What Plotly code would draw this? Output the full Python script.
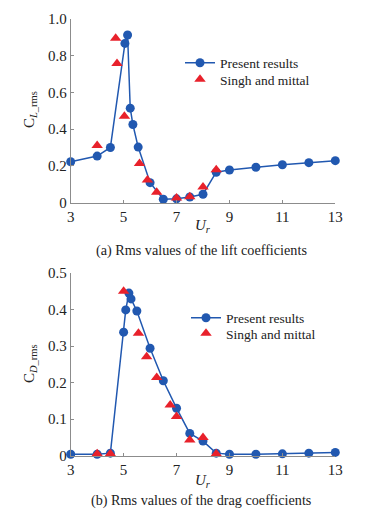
import plotly.graph_objects as go

# Lift coefficient (top)
lift_present_ur = [3.0, 4.0, 4.5, 5.05, 5.15, 5.25, 5.35, 5.55, 6.0, 6.5, 7.0, 7.5, 8.0, 8.5, 9.0, 10.0, 11.0, 12.0, 13.0]
lift_present_cl = [0.222, 0.253, 0.300, 0.867, 0.913, 0.514, 0.425, 0.302, 0.108, 0.018, 0.020, 0.030, 0.045, 0.165, 0.177, 0.192, 0.206, 0.217, 0.228]
lift_singh_ur = [4.0, 4.7, 4.75, 5.03, 5.6, 5.9, 6.25, 7.0, 7.5, 8.0, 8.5]
lift_singh_cl = [0.31, 0.895, 0.758, 0.47, 0.213, 0.122, 0.056, 0.024, 0.031, 0.084, 0.179]

# Drag coefficient (bottom)
drag_present_ur = [3.0, 4.0, 4.5, 5.0, 5.08, 5.2, 5.28, 5.5, 6.0, 6.5, 7.0, 7.5, 8.0, 8.5, 9.0, 10.0, 11.0, 12.0, 13.0]
drag_present_cd = [0.004, 0.004, 0.007, 0.338, 0.399, 0.445, 0.429, 0.396, 0.294, 0.205, 0.130, 0.061, 0.040, 0.007, 0.004, 0.004, 0.005, 0.007, 0.009]
drag_singh_ur = [4.0, 4.5, 5.0, 5.56, 5.87, 6.25, 6.76, 7.0, 7.5, 8.0, 8.5]
drag_singh_cd = [0.005, 0.005, 0.45, 0.335, 0.271, 0.214, 0.139, 0.107, 0.043, 0.050, 0.005]

x_ticks = [3, 5, 7, 9, 11, 13]
lift_ticks = [0, 0.2, 0.4, 0.6, 0.8, 1.0]
lift_ticktext = ["0", "0.2", "0.4", "0.6", "0.8", "1.0"]
drag_ticks = [0, 0.1, 0.2, 0.3, 0.4, 0.5]
drag_ticktext = ["0", "0.1", "0.2", "0.3", "0.4", "0.5"]

BLUE = "#2158b0"
RED = "#e8212b"
FONT = "Liberation Serif"
TXT = "#222"
W, H = 365, 514

fig = go.Figure()

fig.add_trace(go.Scatter(x=lift_present_ur, y=lift_present_cl, mode="lines+markers", name="Present results",
                         line=dict(color=BLUE, width=1.5), marker=dict(color=BLUE, size=9, symbol="circle"),
                         xaxis="x", yaxis="y", legend="legend", cliponaxis=False))
fig.add_trace(go.Scatter(x=lift_singh_ur, y=lift_singh_cl, mode="markers", name="Singh and mittal",
                         marker=dict(color=RED, size=10, symbol="triangle-up"),
                         xaxis="x", yaxis="y", legend="legend2", cliponaxis=False))
fig.add_trace(go.Scatter(x=drag_present_ur, y=drag_present_cd, mode="lines+markers", name="Present results",
                         line=dict(color=BLUE, width=1.5), marker=dict(color=BLUE, size=9, symbol="circle"),
                         xaxis="x2", yaxis="y2", legend="legend3", cliponaxis=False))
fig.add_trace(go.Scatter(x=drag_singh_ur, y=drag_singh_cd, mode="markers", name="Singh and mittal",
                         marker=dict(color=RED, size=10, symbol="triangle-up"),
                         xaxis="x2", yaxis="y2", legend="legend4", cliponaxis=False))

xdom = [70.7 / W, 335.3 / W]
top_dom = [1 - 202.5 / H, 1 - 19 / H]
bot_dom = [1 - 455.7 / H, 1 - 273 / H]

axis_common = dict(showgrid=False, zeroline=False, showline=True, linecolor="#8c8c8c", linewidth=1,
                   ticks="inside", ticklen=3, tickcolor="#8c8c8c", automargin=False,
                   tickfont=dict(family=FONT, size=15, color=TXT))


def leg(xpx, ypx):
    return dict(x=xpx / W, y=1 - ypx / H, xanchor="left", yanchor="middle", bgcolor="rgba(0,0,0,0)",
                font=dict(family=FONT, size=13.5, color=TXT), itemwidth=30)


fig.update_layout(
    width=W, height=H, margin=dict(l=0, r=0, t=0, b=0, autoexpand=False),
    paper_bgcolor="white", plot_bgcolor="white",
    font=dict(family=FONT, size=13, color=TXT),
    xaxis=dict(domain=xdom, range=[3, 13], tickvals=x_ticks, anchor="y", **axis_common),
    yaxis=dict(domain=top_dom, range=[0, 1.0], tickvals=lift_ticks, ticktext=lift_ticktext, anchor="x", **axis_common),
    xaxis2=dict(domain=xdom, range=[3, 13], tickvals=x_ticks, anchor="y2", **axis_common),
    yaxis2=dict(domain=bot_dom, range=[0, 0.5], tickvals=drag_ticks, ticktext=drag_ticktext, anchor="x2", **axis_common),
    legend=leg(180, 63),
    legend2=leg(180, 79.5),
    legend3=leg(186, 318),
    legend4=leg(186, 333.5),
    showlegend=True,
)

annotations = [
    dict(text="C<sub><i>L</i>_rms</sub>", x=30 / W, y=1 - 110 / H, textangle=-90, font=dict(size=15)),
    dict(text="<i>U<sub>r</sub></i>", x=203 / W, y=1 - 226 / H, font=dict(size=15)),
    dict(text="(a) Rms values of the lift coefficients", x=202 / W, y=1 - 250 / H, font=dict(size=14.2)),
    dict(text="C<sub><i>D</i>_rms</sub>", x=30 / W, y=1 - 364 / H, textangle=-90, font=dict(size=15)),
    dict(text="<i>U<sub>r</sub></i>", x=203 / W, y=1 - 481 / H, font=dict(size=15)),
    dict(text="(b) Rms values of the drag coefficients", x=202 / W, y=1 - 500 / H, font=dict(size=14.2)),
]
for a in annotations:
    a.update(xref="paper", yref="paper", showarrow=False, xanchor="center", yanchor="middle")
    a["font"] = dict(family=FONT, color=TXT, **a["font"])
fig.update_layout(annotations=annotations)

fig.write_html("out.html", config={"displayModeBar": False},
               post_script="document.body.style.margin='0';document.body.style.overflow='hidden';")
